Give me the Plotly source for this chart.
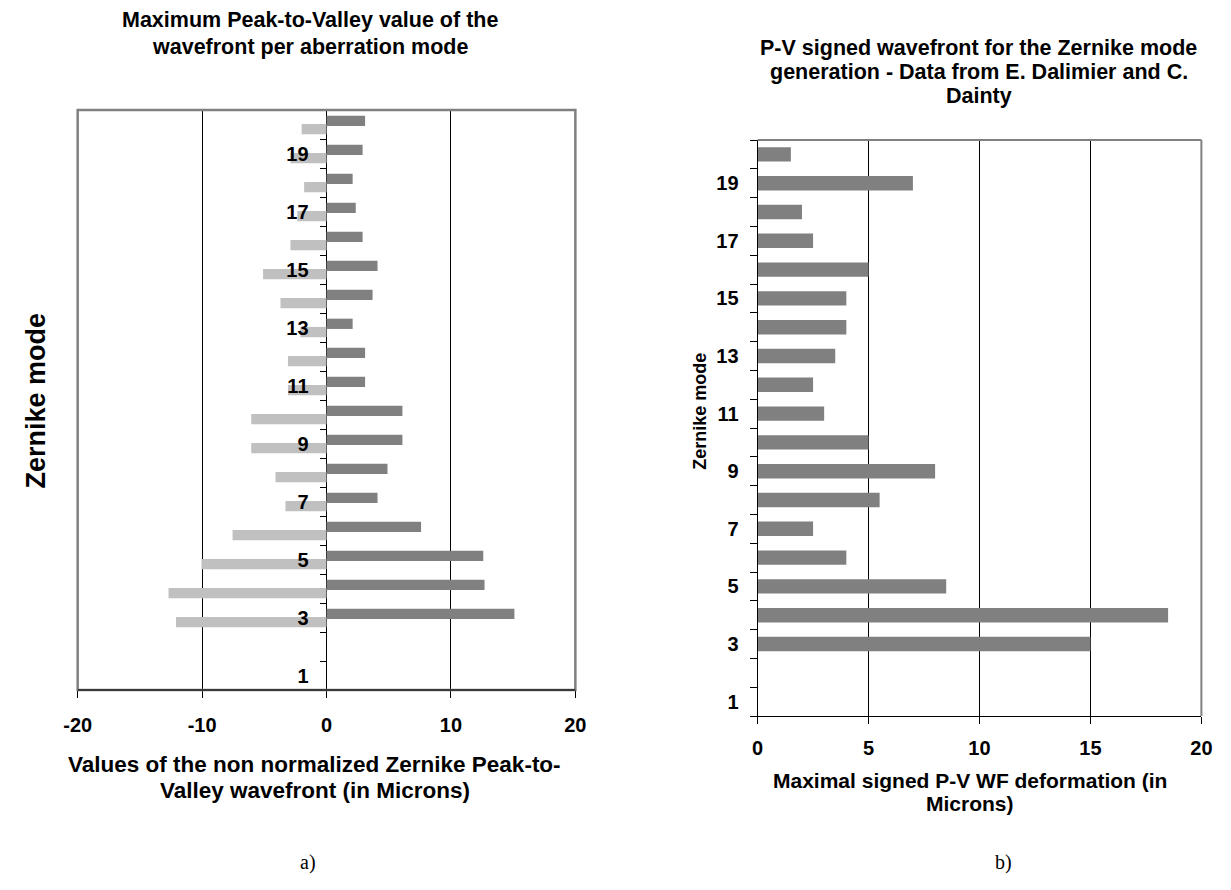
import plotly.graph_objects as go

# ---------------- data ----------------
modes = list(range(1, 21))
# left chart: maximum positive / negative P-V value per mode (microns)
left_peak = [None, None, 15.1, 12.7, 12.6, 7.6, 4.1, 4.9, 6.1, 6.1,
             3.1, 3.1, 2.1, 3.7, 4.1, 2.9, 2.35, 2.1, 2.9, 3.1]
left_valley = [None, None, -12.1, -12.7, -10.05, -7.55, -3.3, -4.1, -6.05, -6.05,
               -3.1, -3.1, -2.1, -3.7, -5.1, -2.9, -2.35, -1.8, -2.9, -2.0]
# right chart: maximal signed P-V WF deformation (Dalimier & Dainty)
right_pv = [None, None, 15, 18.5, 8.5, 4, 2.5, 5.5, 8, 5,
            3, 2.5, 3.5, 4, 4, 5, 2.5, 2, 7, 1.5]
odd_ticks = [1, 3, 5, 7, 9, 11, 13, 15, 17, 19]
odd_labels = [str(v) for v in odd_ticks]
left_xticks = [-20, -10, 0, 10, 20]
left_xlabels = ["-20", "-10", "0", "10", "20"]
right_xticks = [0, 5, 10, 15, 20]
right_xlabels = ["0", "5", "10", "15", "20"]

W, H = 1231, 890
FONT = "Arial, Liberation Sans, Helvetica, sans-serif"
SERIF = "Times New Roman, Liberation Serif, serif"
DARK = "#808080"
LIGHT = "#C0C0C0"

# plot areas in pixels
L = dict(x0=65, x1=573, y0=110, y1=690)
R = dict(x0=759, x1=1212, y0=140, y1=716)

def px(x):
    return x / W

def py(y):
    return 1 - y / H

fig = go.Figure()

fig.add_trace(go.Bar(y=modes, x=left_valley, orientation="h", marker=dict(color=LIGHT, line=dict(width=0)),
                     width=0.355, offset=-0.335, xaxis="x", yaxis="y", showlegend=False))
fig.add_trace(go.Bar(y=modes, x=left_peak, orientation="h", marker=dict(color=DARK, line=dict(width=0)),
                     width=0.355, offset=-0.05, xaxis="x", yaxis="y", showlegend=False))
fig.add_trace(go.Bar(y=modes, x=right_pv, orientation="h", marker=dict(color=DARK, line=dict(width=0)),
                     width=0.5, offset=-0.25, xaxis="x2", yaxis="y2", showlegend=False))

tickfont = dict(family=FONT, size=20, color="black", weight="bold")

lx_dom = [px(L["x0"]), px(L["x1"])]
rx_dom = [px(R["x0"]), px(R["x1"])]
boundaries = [i + 0.5 for i in range(0, 21)]

fig.update_layout(
    width=W, height=H, margin=dict(l=0, r=0, t=0, b=0),
    paper_bgcolor="white", plot_bgcolor="white",
    barmode="overlay",
    xaxis=dict(domain=lx_dom, range=[-20, 20], tickmode="array", tickvals=left_xticks, ticktext=left_xlabels,
               ticks="outside", ticklen=7,
               tickcolor="black", tickfont=tickfont, showgrid=True, gridcolor="black", gridwidth=1,
               zeroline=True, zerolinecolor="black", zerolinewidth=1, showline=False,
               ticklabelstandoff=10, anchor="y"),
    yaxis=dict(domain=[py(L["y1"]), py(L["y0"])], range=[0.5, 20.5], tickmode="array",
               tickvals=odd_ticks, ticktext=odd_labels,
               ticks="outside", ticklen=14, tickcolor="rgba(0,0,0,0)", tickfont=tickfont,
               showgrid=False, zeroline=False, showline=False,
               anchor="free", position=(lx_dom[0] + lx_dom[1]) / 2,
               minor=dict(tickvals=boundaries, ticks="outside", ticklen=7,
                          tickcolor="black", tickwidth=1, showgrid=False)),
    xaxis2=dict(domain=rx_dom, range=[0, 20], tickmode="array", tickvals=right_xticks, ticktext=right_xlabels,
                ticks="outside", ticklen=7,
                tickcolor="black", tickfont=tickfont, showgrid=True, gridcolor="black", gridwidth=1,
                zeroline=False, showline=True, linecolor="black", linewidth=1,
                ticklabelstandoff=7, anchor="y2"),
    yaxis2=dict(domain=[py(R["y1"]), py(R["y0"])], range=[0.5, 20.5], tickmode="array",
                tickvals=odd_ticks, ticktext=odd_labels,
                ticks="outside", ticklen=14, tickcolor="rgba(0,0,0,0)", tickfont=tickfont,
                showgrid=False, zeroline=False, showline=True, linecolor="black", linewidth=1,
                anchor="x2",
                minor=dict(tickvals=boundaries, ticks="outside", ticklen=7,
                           tickcolor="black", tickwidth=1, showgrid=False)),
)

shapes = []
# left frame (grey) and dark bottom axis line
shapes.append(dict(type="rect", xref="x domain", yref="y domain", x0=0, x1=1, y0=0, y1=1,
                   line=dict(color="#808080", width=2.5), layer="above"))
shapes.append(dict(type="line", xref="x domain", yref="y domain", x0=0, x1=1, y0=0, y1=0,
                   line=dict(color="#222222", width=1.5), layer="above"))
# right frame: top and right grey
shapes.append(dict(type="line", xref="x2 domain", yref="y2 domain", x0=0, x1=1, y0=1, y1=1,
                   line=dict(color="#808080", width=2), layer="above"))
shapes.append(dict(type="line", xref="x2 domain", yref="y2 domain", x0=1, x1=1, y0=0, y1=1,
                   line=dict(color="#808080", width=2), layer="above"))
fig.update_layout(shapes=shapes)

ann = []
def text(x, y, s, size, angle=0, family=FONT, bold=True):
    ann.append(dict(x=px(x), y=py(y), xref="paper", yref="paper", text=s, showarrow=False,
                    xanchor="center", yanchor="middle", textangle=angle,
                    font=dict(family=family, size=size, color="black", weight="bold" if bold else "normal")))

# left chart texts
text(302, 20, "Maximum Peak-to-Valley value of the", 21.5)
text(302, 47, "wavefront per aberration mode", 21.5)
text(22, 401, "Zernike mode", 27, angle=-90)
text(307, 764, "Values of the non normalized Zernike Peak-to-", 22.5)
text(307, 790, "Valley wavefront (in Microns)", 22.5)

# right chart texts
text(985, 48, "P-V signed wavefront for the Zernike mode", 21.5)
text(985, 72, "generation - Data from E. Dalimier and C.", 21.5)
text(985, 96, "Dainty", 21.5)
text(700, 411, "Zernike mode", 18, angle=-90)
text(976, 780, "Maximal signed P-V WF deformation (in", 21)
text(976, 803, "Microns)", 21)

text(300, 862, "a)", 20, family=SERIF, bold=False)
text(1010, 862, "b)", 20, family=SERIF, bold=False)
fig.update_layout(annotations=ann)

fig.write_html("out.html")
